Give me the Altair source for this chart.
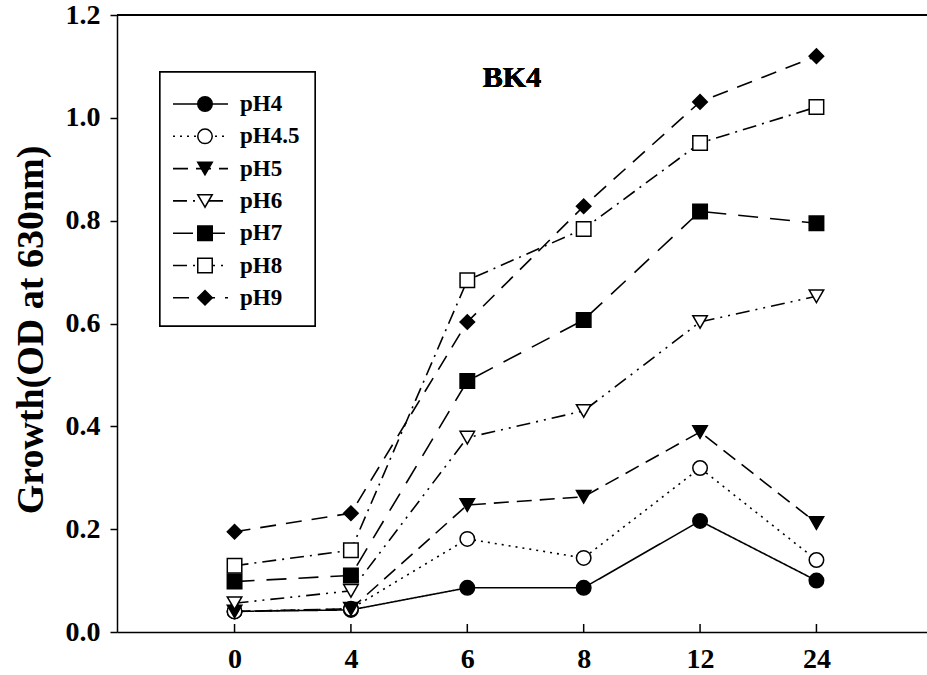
import altair as alt
import pandas as pd

times = ["0", "4", "6", "8", "12", "24"]
series = ["pH4", "pH4.5", "pH5", "pH6", "pH7", "pH8", "pH9"]
pH4 = [0.040, 0.043, 0.086, 0.086, 0.216, 0.100]
pH4_5 = [0.040, 0.045, 0.181, 0.144, 0.319, 0.140]
pH5 = [0.040, 0.045, 0.247, 0.263, 0.389, 0.212]
pH6 = [0.056, 0.080, 0.378, 0.430, 0.603, 0.653]
pH7 = [0.098, 0.110, 0.488, 0.607, 0.818, 0.795]
pH8 = [0.129, 0.159, 0.684, 0.784, 0.951, 1.021]
pH9 = [0.195, 0.231, 0.603, 0.828, 1.031, 1.120]
y_ticks = [0.0, 0.2, 0.4, 0.6, 0.8, 1.0, 1.2]

shapes = ["circle", "circle", "triangle-down", "triangle-down", "square", "square", "diamond"]
fills = ["black", "white", "black", "white", "black", "white", "black"]
sizes = [210, 210, 200, 200, 230, 230, 420]
dashes = [[1, 0], [2, 5], [15, 8], [14, 6, 2, 6, 2, 6], [20, 12], [14, 6, 2, 6], [16, 10]]

values = [pH4, pH4_5, pH5, pH6, pH7, pH8, pH9]
rows = []
for s, vals in zip(series, values):
    for i, v in enumerate(vals):
        rows.append({"series": s, "idx": i, "time": times[i], "value": v})
df = pd.DataFrame(rows)
tick_df = pd.DataFrame({"idx": list(range(len(times)))})
leg_df = pd.DataFrame({"series": series, "row": list(range(len(series)))})

FONT = "Liberation Serif"
W, H = 810, 617

label_expr = "[" + ",".join("'%s'" % t for t in times) + "][datum.value]"
x_scale = alt.Scale(domain=[-1.01, 5.95], nice=False, zero=False)
y_scale = alt.Scale(domain=[0, 1.2], nice=False)

x_enc = alt.X("idx:Q", scale=x_scale,
              axis=alt.Axis(values=list(range(len(times))), labelExpr=label_expr,
                            title=None, ticks=False, labelPadding=13, grid=False,
                            labelFont=FONT, labelFontSize=28, labelFontWeight="bold",
                            labelColor="black", domainColor="black", domainWidth=1.5))
y_enc = alt.Y("value:Q", scale=y_scale,
              axis=alt.Axis(values=y_ticks, format=".1f", title="Growth(OD at 630nm)",
                            grid=False, tickSize=7, tickColor="black", tickWidth=1.5,
                            labelPadding=10, labelFont=FONT, labelFontSize=28,
                            labelFontWeight="bold", labelColor="black",
                            domainColor="black", domainWidth=1.5,
                            titleFont=FONT, titleFontSize=38, titleFontWeight="bold",
                            titleColor="black", titleX=-86, titleY=H / 2 + 6,
                            titleBaseline="middle", titleAlign="center"))

dash_scale = alt.Scale(domain=series, range=dashes)
shape_scale = alt.Scale(domain=series, range=shapes)
fill_scale = alt.Scale(domain=series, range=fills)
size_scale = alt.Scale(domain=series, range=sizes)

lines = alt.Chart(df).mark_line(color="black", strokeWidth=1.6).encode(
    x=x_enc, y=y_enc,
    strokeDash=alt.StrokeDash("series:N", scale=dash_scale, legend=None),
    order="idx:Q",
)
points = alt.Chart(df).mark_point(filled=True, stroke="black", strokeWidth=1.5, opacity=1).encode(
    x="idx:Q", y="value:Q",
    shape=alt.Shape("series:N", scale=shape_scale, legend=None),
    fill=alt.Fill("series:N", scale=fill_scale, legend=None),
    size=alt.Size("series:N", scale=size_scale, legend=None),
)

xticks = alt.Chart(tick_df).mark_rule(color="black", strokeWidth=1.5).encode(
    x="idx:Q", y=alt.datum(0), y2=alt.value(H - 8)
)
top_line = alt.Chart(tick_df).mark_rule(color="black", strokeWidth=1.5).encode(
    y=alt.datum(1.2), x=alt.value(0), x2=alt.value(W)
)

title = alt.Chart(tick_df).mark_text(text="BK4", font=FONT, fontSize=30, fontWeight="bold",
                                     color="black").encode(
    x=alt.value(395), y=alt.value(63)
)

leg_box = alt.Chart(tick_df).mark_rect(fill="white", stroke="black", strokeWidth=1.3).encode(
    x=alt.value(43), x2=alt.value(198), y=alt.value(57), y2=alt.value(311)
)
leg_base = alt.Chart(leg_df).transform_calculate(py="89 + 32.3 * datum.row")
leg_lines = leg_base.mark_rule(color="black", strokeWidth=1.6).encode(
    x=alt.value(56), x2=alt.value(111), y=alt.Y("py:Q", scale=None),
    strokeDash=alt.StrokeDash("series:N", scale=dash_scale, legend=None),
)
leg_pts = leg_base.mark_point(filled=True, stroke="black", strokeWidth=1.5, opacity=1).encode(
    x=alt.value(88), y=alt.Y("py:Q", scale=None),
    shape=alt.Shape("series:N", scale=shape_scale, legend=None),
    fill=alt.Fill("series:N", scale=fill_scale, legend=None),
    size=alt.Size("series:N", scale=size_scale, legend=None),
)
leg_text = leg_base.mark_text(font=FONT, fontSize=23, fontWeight="bold", align="left",
                              baseline="middle", color="black").encode(
    x=alt.value(123), y=alt.Y("py:Q", scale=None), text="series:N"
)

chart = alt.layer(
    lines, points, xticks, top_line, title, leg_box, leg_lines, leg_pts, leg_text
).properties(
    width=W, height=H,
    autosize=alt.AutoSizeParams(type="none"),
    padding={"left": 117, "top": 15, "right": 0, "bottom": 43},
).configure_view(stroke=None).configure(background="white")

chart.save("out.html", embed_options={"renderer": "svg", "actions": False})
